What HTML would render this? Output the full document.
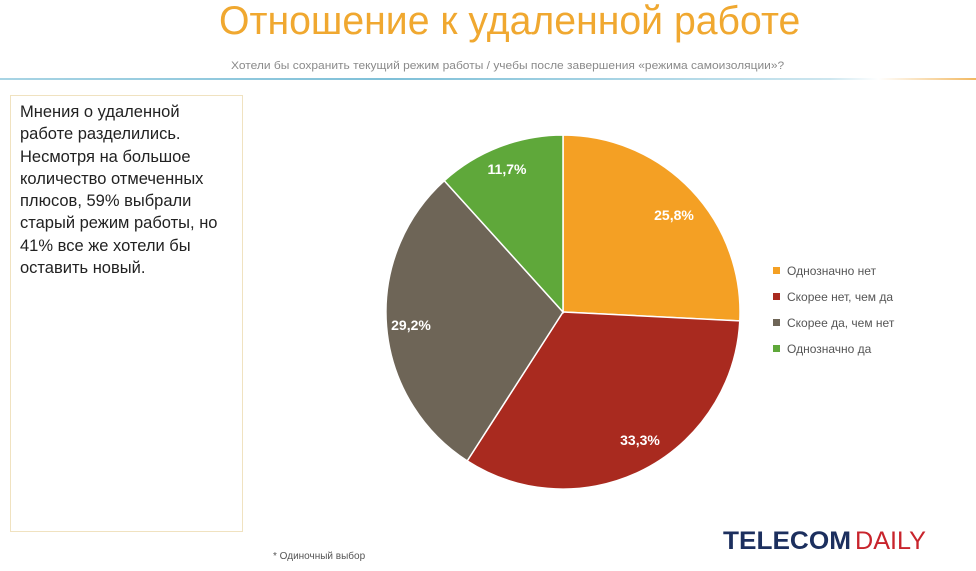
<!DOCTYPE html>
<html><head><meta charset="utf-8"><style>
body{margin:0;width:976px;height:571px;background:#fff;position:relative;overflow:hidden;font-family:"Liberation Sans",sans-serif}
.t{position:absolute}
</style></head><body>
<div class="t" style="left:219px;top:-1px;font-size:40px;color:#f0a830;white-space:nowrap;transform:scaleX(0.98);transform-origin:0 0">Отношение к удаленной работе</div>
<div class="t" style="left:231px;top:60px;font-size:11px;color:#8a8a8a;white-space:nowrap;transform:scaleX(1.09);transform-origin:0 0">Хотели бы сохранить текущий режим работы / учебы после завершения «режима самоизоляции»?</div>
<div class="t" style="left:0;top:78px;width:976px;height:2px;background:linear-gradient(90deg,#a8d4e4,#7fc0d8 40%,#cde6ef 85%,#fff 90%,#f2b860 100%)"></div>
<div class="t" style="left:10px;top:95px;width:231px;height:435px;border:1.5px solid #f0e2c0"></div>
<div class="t" style="left:20px;top:101px;width:215px;font-size:16.5px;line-height:22.3px;color:#222">Мнения о удаленной работе разделились. Несмотря на большое количество отмеченных плюсов, 59% выбрали старый режим работы, но 41% все же хотели бы оставить новый.</div>
<svg class="t" style="left:0;top:0" width="976" height="571">
<path d="M563 312 L563 135 A177 177 0 0 1 739.8 320.9 Z" fill="#f4a024" stroke="#fff" stroke-width="1.5"/>
<path d="M563 312 L739.8 320.9 A177 177 0 0 1 467.2 460.9 Z" fill="#a92a1f" stroke="#fff" stroke-width="1.5"/>
<path d="M563 312 L467.2 460.9 A177 177 0 0 1 444.3 180.7 Z" fill="#6e6557" stroke="#fff" stroke-width="1.5"/>
<path d="M563 312 L444.3 180.7 A177 177 0 0 1 563 135 Z" fill="#5fa83a" stroke="#fff" stroke-width="1.5"/>
<g font-family="Liberation Sans,sans-serif" font-size="14" font-weight="bold" fill="#fff" text-anchor="middle">
<text x="674" y="220">25,8%</text><text x="640" y="445">33,3%</text><text x="411" y="330">29,2%</text><text x="507" y="174">11,7%</text></g>
<g font-family="Liberation Sans,sans-serif" font-size="12" fill="#555">
<rect x="773" y="267" width="7" height="7" fill="#f4a024"/><text x="787" y="275">Однозначно нет</text>
<rect x="773" y="293" width="7" height="7" fill="#a92a1f"/><text x="787" y="301">Скорее нет, чем да</text>
<rect x="773" y="319" width="7" height="7" fill="#6e6557"/><text x="787" y="327">Скорее да, чем нет</text>
<rect x="773" y="345" width="7" height="7" fill="#5fa83a"/><text x="787" y="353">Однозначно да</text>
</g>
<text x="273" y="559" font-family="Liberation Sans,sans-serif" font-size="10" fill="#555">* Одиночный выбор</text>
<text x="723" y="549" font-family="Liberation Sans,sans-serif" font-size="25" font-weight="bold" fill="#1c2f5e" textLength="128" lengthAdjust="spacingAndGlyphs">TELECOM</text>
<text x="855" y="549" font-family="Liberation Sans,sans-serif" font-size="25" fill="#c8242c" textLength="71" lengthAdjust="spacingAndGlyphs">DAILY</text>
</svg>
</body></html>
